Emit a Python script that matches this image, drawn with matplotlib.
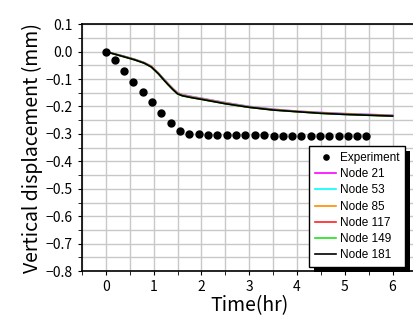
import matplotlib

matplotlib.use("Agg")
import matplotlib.pyplot as plt
from matplotlib.patches import Rectangle
from matplotlib.ticker import MultipleLocator

plt.rcParams["font.family"] = ["Noto Sans CJK JP", "DejaVu Sans"]

# Datos experimentales (tiempo en horas, desplazamiento en mm)
t_exp = [0.0, 0.19, 0.38, 0.57, 0.77, 0.97, 1.16, 1.36, 1.55, 1.75,
         1.95, 2.14, 2.33, 2.53, 2.72, 2.92, 3.12, 3.31, 3.51, 3.70,
         3.90, 4.09, 4.29, 4.48, 4.67, 4.87, 5.06, 5.26, 5.45]
d_exp = [0.0, -0.032, -0.072, -0.109, -0.148, -0.185, -0.224, -0.262, -0.291, -0.299,
         -0.302, -0.303, -0.303, -0.304, -0.304, -0.305, -0.305, -0.305, -0.306, -0.306,
         -0.306, -0.307, -0.307, -0.307, -0.308, -0.308, -0.308, -0.309, -0.309]

# Resultados del modelo por nodo
t_mod = [0.0, 0.2, 0.4, 0.6, 0.8, 0.95, 1.1, 1.2, 1.3, 1.4, 1.5, 1.6, 1.8,
         2.0, 2.5, 3.0, 3.5, 4.0, 4.5, 5.0, 5.5, 6.0]
node_21 = [0.0, -0.009, -0.018, -0.028, -0.040, -0.053, -0.078, -0.097, -0.116, -0.134,
           -0.150, -0.157, -0.164, -0.170, -0.186, -0.200, -0.210, -0.217, -0.222, -0.226,
           -0.229, -0.232]
node_53 = [0.0, -0.009, -0.018, -0.028, -0.040, -0.054, -0.079, -0.098, -0.117, -0.135,
           -0.151, -0.158, -0.165, -0.171, -0.187, -0.201, -0.211, -0.218, -0.223, -0.227,
           -0.230, -0.233]
node_85 = [0.0, -0.010, -0.019, -0.029, -0.041, -0.054, -0.080, -0.099, -0.118, -0.136,
           -0.152, -0.159, -0.166, -0.172, -0.188, -0.202, -0.212, -0.218, -0.224, -0.228,
           -0.231, -0.234]
node_117 = [0.0, -0.010, -0.019, -0.029, -0.041, -0.055, -0.080, -0.100, -0.119, -0.137,
            -0.153, -0.160, -0.167, -0.173, -0.189, -0.203, -0.212, -0.219, -0.224, -0.228,
            -0.231, -0.234]
node_149 = [0.0, -0.010, -0.020, -0.030, -0.042, -0.056, -0.081, -0.101, -0.120, -0.138,
            -0.154, -0.161, -0.168, -0.174, -0.190, -0.203, -0.213, -0.219, -0.225, -0.229,
            -0.232, -0.235]
node_181 = [0.0, -0.010, -0.020, -0.030, -0.042, -0.056, -0.081, -0.101, -0.120, -0.138,
            -0.154, -0.161, -0.168, -0.174, -0.190, -0.203, -0.213, -0.219, -0.225, -0.229,
            -0.232, -0.235]

nodos = [
    ("Node 21", node_21, "#ff00ff"),
    ("Node 53", node_53, "#00ffff"),
    ("Node 85", node_85, "#ff8c00"),
    ("Node 117", node_117, "#ff2020"),
    ("Node 149", node_149, "#20e020"),
    ("Node 181", node_181, "black"),
]

fig = plt.figure(figsize=(4.14, 3.22), dpi=100)
ax = fig.add_axes([0.198, 0.158, 0.808, 0.767])

ax.plot(t_exp, d_exp, "o", color="black", markersize=5, label="Experiment", zorder=5)
for nombre, valores, color in nodos:
    ax.plot(t_mod, valores, "-", color=color, linewidth=1.2, label=nombre)

ax.set_xlim(-0.5, 6.5)
ax.set_ylim(-0.8, 0.1)
ax.xaxis.set_major_locator(MultipleLocator(1))
ax.xaxis.set_minor_locator(MultipleLocator(0.5))
ax.yaxis.set_major_locator(MultipleLocator(0.1))
ax.yaxis.set_minor_locator(MultipleLocator(0.05))
ax.yaxis.set_major_formatter(lambda v, pos: f"{v:.1f}".replace("-", "\u2212"))

ax.grid(True, which="both", color="#c8c8c8", linewidth=1.0)
ax.set_axisbelow(True)
ax.spines["right"].set_visible(False)
for s in ("left", "bottom", "top"):
    ax.spines[s].set_linewidth(1.2)
ax.tick_params(which="both", direction="out", length=3, labelsize=10)

ax.set_xlabel("Time(hr)", fontsize=14, labelpad=1)
ax.set_ylabel("Vertical displacement (mm)", fontsize=14, labelpad=2)

leg = ax.legend(
    loc="upper left",
    bbox_to_anchor=(309 / 414, 1 - 146 / 322),
    bbox_transform=fig.transFigure,
    borderaxespad=0,
    prop={"family": "Liberation Sans", "size": 8.5},
    fancybox=False,
    framealpha=1,
    edgecolor="black",
    handlelength=1.8,
    handletextpad=0.3,
    borderpad=0.5,
    labelspacing=0.36,
    markerscale=0.75,
)
leg.get_frame().set_linewidth(1.0)
leg.set_zorder(10)

# Sombra negra desplazada detrás de la leyenda
fig.canvas.draw()
caja = leg.get_window_extent().transformed(fig.transFigure.inverted())
sombra = Rectangle(
    (caja.x0 + 5 / 414, caja.y0 - 5 / 322),
    caja.width,
    caja.height,
    transform=fig.transFigure,
    facecolor="black",
    edgecolor="none",
    zorder=9,
    clip_on=False,
)
ax.add_artist(sombra)

fig.savefig("out.png", dpi=100)
